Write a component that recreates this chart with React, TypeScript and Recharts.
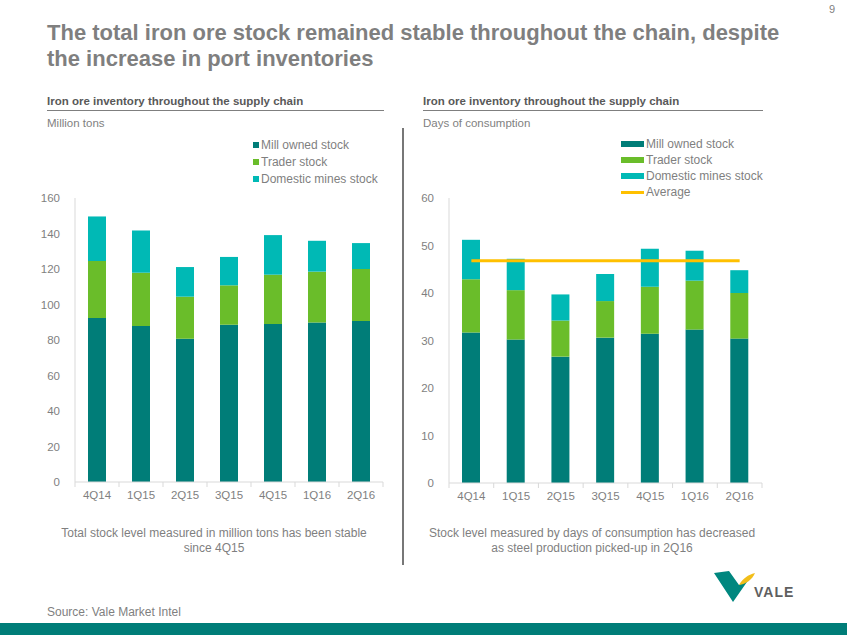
import React from "react";
import { BarChart, ComposedChart, Bar, Line, XAxis, YAxis, Legend } from "recharts";

const quarters = ["4Q14", "1Q15", "2Q15", "3Q15", "4Q15", "1Q16", "2Q16"];
const seriesNames = ["Mill owned stock", "Trader stock", "Domestic mines stock", "Average"];

// million tons
const millTons = [92.4, 87.9, 80.7, 88.6, 89.0, 89.9, 90.7];
const traderTons = [32.1, 30.0, 23.7, 22.2, 27.8, 28.6, 29.3];
const domesticTons = [25.1, 23.8, 16.7, 16.0, 22.3, 17.4, 14.6];
const tonTicks = [0, 20, 40, 60, 80, 100, 120, 140, 160];

// days of consumption
const millDays = [31.7, 30.2, 26.6, 30.6, 31.4, 32.3, 30.4];
const traderDays = [11.2, 10.4, 7.6, 7.7, 9.9, 10.3, 9.6];
const domesticDays = [8.3, 6.6, 5.5, 5.7, 8.0, 6.3, 4.8];
const averageDays = 46.8;
const dayTicks = [0, 10, 20, 30, 40, 50, 60];

const tonsData = quarters.map((q, i) => ({ q, mill: millTons[i], trader: traderTons[i], domestic: domesticTons[i] }));
const daysData = quarters.map((q, i) => ({ q, mill: millDays[i], trader: traderDays[i], domestic: domesticDays[i], avg: averageDays }));

const MILL = "#007D78";
const TRADER = "#6ABD2A";
const DOMESTIC = "#00B9B5";
const AVG = "#FFC000";
const GREY = "#7f7f7f";
const AXIS = "#d9d9d9";
const FONT = "'Liberation Sans', Arial, sans-serif";

// category tick: label at the band centre, tick marks at the band edges
function BandTick(props: any) {
  const { x, y, payload, index, visibleTicksCount } = props;
  const half = payload.offset || 22;
  const last = index === visibleTicksCount - 1;
  return (
    <g>
      <line x1={x - half} x2={x - half} y1={y} y2={y + 5} stroke={AXIS} />
      {last && <line x1={x + half} x2={x + half} y1={y} y2={y + 5} stroke={AXIS} />}
      <text x={x} y={y + 17} textAnchor="middle" fontSize={11.5} fill={GREY}>
        {payload.value}
      </text>
    </g>
  );
}

// keep legend entries in series order (recharts sorts them by name)
const ordered = (payload: any[]) =>
  [...(payload || [])].sort((a, b) => seriesNames.indexOf(a.value) - seriesNames.indexOf(b.value));

function SquareLegend({ payload }: any) {
  return (
    <div>
      {ordered(payload).map((p: any) => (
        <div key={p.value} style={{ display: "flex", alignItems: "center", height: 17, fontSize: 12, color: GREY }}>
          <span style={{ width: 6, height: 6, background: p.color, marginRight: 2, display: "inline-block" }} />
          {p.value}
        </div>
      ))}
    </div>
  );
}

function WideLegend({ payload }: any) {
  return (
    <div>
      {ordered(payload).map((p: any) => (
        <div key={p.value} style={{ display: "flex", alignItems: "center", height: 16, fontSize: 12, color: GREY }}>
          <span
            style={{
              width: 23,
              height: p.type === "line" ? 3 : 6,
              background: p.color,
              marginRight: 2,
              display: "inline-block",
            }}
          />
          {p.value}
        </div>
      ))}
    </div>
  );
}

function ValeLogo() {
  return (
    <svg width={90} height={40} style={{ position: "absolute", left: 710, top: 568 }}>
      <path d="M4 5 L19 3 L29 17 L39 11 L23 34 Z" fill="#00877F" />
      <path d="M29 17 C33 10 38 7 45 5 C42 12 36 16 29 17 Z" fill="#F2BE1A" />
      <text x={44} y={29} fontSize={14} fontWeight="bold" fill="#5f5f5f" letterSpacing={1}>
        VALE
      </text>
    </svg>
  );
}

export default function App() {
  return (
    <div style={{ position: "absolute", left: 0, top: 0, width: 847, height: 635, background: "#fff", fontFamily: FONT, overflow: "hidden" }}>
      <div style={{ position: "absolute", left: 829, top: 3, fontSize: 11, color: GREY }}>9</div>
      <div style={{ position: "absolute", left: 47, top: 20, fontSize: 22, fontWeight: "bold", color: GREY, lineHeight: "26px" }}>
        The total iron ore stock remained stable throughout the chain, despite
        <br />
        the increase in port inventories
      </div>

      {/* panel headers */}
      <div style={{ position: "absolute", left: 47, top: 95, width: 337, fontSize: 11.5, fontWeight: "bold", color: "#595959", borderBottom: `1.5px solid ${GREY}`, paddingBottom: 3 }}>
        Iron ore inventory throughout the supply chain
      </div>
      <div style={{ position: "absolute", left: 47, top: 117, fontSize: 11.5, color: GREY }}>Million tons</div>
      <div style={{ position: "absolute", left: 423, top: 95, width: 340, fontSize: 11.5, fontWeight: "bold", color: "#595959", borderBottom: `1.5px solid ${GREY}`, paddingBottom: 3 }}>
        Iron ore inventory throughout the supply chain
      </div>
      <div style={{ position: "absolute", left: 423, top: 117, fontSize: 11.5, color: GREY }}>Days of consumption</div>

      <div style={{ position: "absolute", left: 402, top: 128, width: 2, height: 437, background: "#777" }} />

      <div style={{ position: "absolute", left: 20, top: 190 }}>
        <BarChart width={380} height={320} data={tonsData} margin={{ top: 8, right: 17, bottom: 0, left: 0 }}>
          <XAxis dataKey="q" height={28} stroke={AXIS} tickLine={false} tickSize={0} tickMargin={0} tick={<BandTick />} interval={0} />
          <YAxis width={55} domain={[0, 160]} ticks={tonTicks} stroke={AXIS} tickLine={false} tickMargin={9} tick={{ fill: GREY, fontSize: 11.5 }} />
          <Legend
            layout="vertical"
            align="center"
            verticalAlign="middle"
            content={<SquareLegend />}
            wrapperStyle={{ top: -54, left: 233, width: 160 }}
          />
          <Bar dataKey="mill" name="Mill owned stock" stackId="s" fill={MILL} barSize={18} isAnimationActive={false} />
          <Bar dataKey="trader" name="Trader stock" stackId="s" fill={TRADER} barSize={18} isAnimationActive={false} />
          <Bar dataKey="domestic" name="Domestic mines stock" stackId="s" fill={DOMESTIC} barSize={18} isAnimationActive={false} />
        </BarChart>
      </div>

      <div style={{ position: "absolute", left: 400, top: 190 }}>
        <ComposedChart width={380} height={320} data={daysData} margin={{ top: 8, right: 18, bottom: 0, left: 0 }}>
          <XAxis dataKey="q" height={27} stroke={AXIS} tickLine={false} tickSize={0} tickMargin={0} tick={<BandTick />} interval={0} />
          <YAxis width={49} domain={[0, 60]} ticks={dayTicks} stroke={AXIS} tickLine={false} tickMargin={9} tick={{ fill: GREY, fontSize: 11.5 }} />
          <Legend
            layout="vertical"
            align="center"
            verticalAlign="middle"
            content={<WideLegend />}
            wrapperStyle={{ top: -54, left: 221, width: 160 }}
          />
          <Bar dataKey="mill" name="Mill owned stock" stackId="s" fill={MILL} barSize={18} isAnimationActive={false} />
          <Bar dataKey="trader" name="Trader stock" stackId="s" fill={TRADER} barSize={18} isAnimationActive={false} />
          <Bar dataKey="domestic" name="Domestic mines stock" stackId="s" fill={DOMESTIC} barSize={18} isAnimationActive={false} />
          <Line dataKey="avg" name="Average" stroke={AVG} strokeWidth={3} dot={false} activeDot={false} isAnimationActive={false} />
        </ComposedChart>
      </div>

      <div style={{ position: "absolute", left: 44, top: 526, width: 340, textAlign: "center", fontSize: 12, color: GREY, lineHeight: "15px" }}>
        Total stock level measured in million tons has been stable
        <br />
        since 4Q15
      </div>
      <div style={{ position: "absolute", left: 412, top: 526, width: 360, textAlign: "center", fontSize: 12, color: GREY, lineHeight: "15px" }}>
        Stock level measured by days of consumption has decreased
        <br />
        as steel production picked-up in 2Q16
      </div>

      <ValeLogo />
      <div style={{ position: "absolute", left: 47, top: 605, fontSize: 12, color: GREY }}>Source: Vale Market Intel</div>
      <div style={{ position: "absolute", left: 0, top: 623, width: 847, height: 12, background: "#007D78" }} />
    </div>
  );
}
